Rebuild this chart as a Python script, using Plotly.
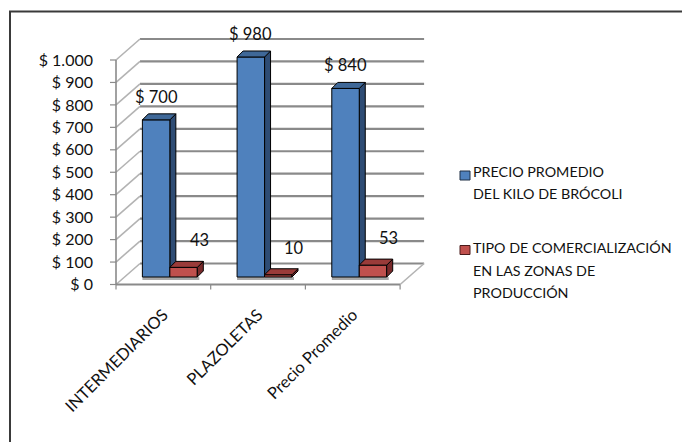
import plotly.graph_objects as go

# ---- data -------------------------------------------------------------
CATEGORIES = ["INTERMEDIARIOS", "PLAZOLETAS", "Precio Promedio"]
PRECIO_KILO = [700, 980, 840]
TIPO_COMERCIALIZACION = [43, 10, 53]
SERIES_NAMES = ["PRECIO PROMEDIO DEL KILO DE BRÓCOLI",
                "TIPO DE COMERCIALIZACIÓN EN LAS ZONAS DE PRODUCCIÓN"]
LEGEND_LINES = [["PRECIO PROMEDIO", "DEL KILO DE BRÓCOLI"],
                ["TIPO DE COMERCIALIZACIÓN", "EN LAS ZONAS DE", "PRODUCCIÓN"]]
Y_TICKS = list(range(0, 1001, 100))


def money(v):
    return "$ " + f"{v:,}".replace(",", ".")


Y_TICK_LABELS = [money(v) for v in Y_TICKS]

# ---- geometry (pixels) -------------------------------------------------
FIG_W, FIG_H = 682, 442
PLOT_L, PLOT_R, PLOT_T, PLOT_B = 104, 428, 30, 292
ORIGIN_X, ORIGIN_Y = 116, 284.5      # front corner of the floor
CAT_PX = 94.7                          # width of one category
VAL_PX = 0.2245                        # pixels per peso
WALL_DX, WALL_DY = 24, 21              # depth of the back wall
BAR_DX, BAR_DY = 6.5, 7.5              # bars sit slightly behind the front edge
FACE_DX, FACE_DY = 6, 6                # depth of each column
BAR_W = 0.29

FONT = "Lato"
TEXT = "#111111"
GRID = "#8a8a8a"
SIDE_GRID = "#b3b3b3"

BLUE = dict(front="#4F81BD", top="#3F6898", side="#2E4C74")
RED = dict(front="#C0504D", top="#9A3B39", side="#78292A")


def fx(px):
    return -0.5 + (px - ORIGIN_X) / CAT_PX


def fy(py):
    return (ORIGIN_Y - py) / VAL_PX


def paper_x(px):
    return (px - PLOT_L) / (PLOT_R - PLOT_L)


def paper_y(py):
    return (PLOT_B - py) / (PLOT_B - PLOT_T)


x_range = [fx(PLOT_L), fx(PLOT_R)]
y_range = [fy(PLOT_B), fy(PLOT_T)]
x2_range = [v - BAR_DX / CAT_PX for v in x_range]
y2_range = [v - BAR_DY / VAL_PX for v in y_range]

wdx, wdy = WALL_DX / CAT_PX, WALL_DY / VAL_PX
ddx, ddy = FACE_DX / CAT_PX, FACE_DY / VAL_PX

shapes = []


def add_line(x0, y0, x1, y1, color, width, xref="x", yref="y", layer="below"):
    shapes.append(dict(type="line", x0=x0, y0=y0, x1=x1, y1=y1, xref=xref, yref=yref,
                       line=dict(color=color, width=width), layer=layer))


def add_poly(pts, fill, xref="x2", yref="y2", layer="above"):
    path = "M " + " L ".join(f"{x},{y}" for x, y in pts) + " Z"
    shapes.append(dict(type="path", path=path, xref=xref, yref=yref, fillcolor=fill,
                       line=dict(color="#000000", width=1), layer=layer))


# back wall grid and side wall
for v in Y_TICKS:
    add_line(-0.5 + wdx, v + wdy, 2.5 + wdx, v + wdy, GRID, 2.2)
    add_line(-0.5, v, -0.5 + wdx, v + wdy, SIDE_GRID, 1.6)
    add_line(-0.5 - 6 / CAT_PX, v, -0.5, v, GRID, 1.2)
# floor
add_line(-0.5, 0, 2.5, 0, GRID, 2.2)
add_line(2.5, 0, 2.5 + wdx, wdy, SIDE_GRID, 1.6)
add_line(-0.5, 0, -0.5, 1000, GRID, 1.6)
for b in [-0.5, 0.5, 1.5, 2.5]:
    add_line(b, 0, b, -5 / VAL_PX, GRID, 1.2)

# column shadows, side and top faces
for series, offset, col in [(PRECIO_KILO, -BAR_W, BLUE), (TIPO_COMERCIALIZACION, 0, RED)]:
    for i, v in enumerate(series):
        xl = i + offset
        xr = xl + BAR_W
        shapes.append(dict(type="rect", xref="x2", yref="y2", x0=xl, x1=xr + 2 / CAT_PX,
                           y0=0, y1=-3 / VAL_PX, fillcolor="#a8a8a8",
                           line=dict(width=0), layer="below"))
        side_layer = "below" if col is BLUE else "above"
        add_poly([(xr, 0), (xr, v), (xr + ddx, v + ddy), (xr + ddx, ddy)], col["side"],
                 layer=side_layer)
        add_poly([(xl, v), (xr, v), (xr + ddx, v + ddy), (xl + ddx, v + ddy)], col["top"])

# chart frame
shapes.append(dict(type="rect", xref="paper", yref="paper",
                   x0=paper_x(10), x1=paper_x(720), y0=paper_y(480), y1=paper_y(11.5),
                   line=dict(color="#3a3a3a", width=2), fillcolor="rgba(0,0,0,0)",
                   layer="above"))

fig = go.Figure()
fig.add_trace(go.Bar(x=[0, 1, 2], y=PRECIO_KILO, name=SERIES_NAMES[0],
                     offset=-BAR_W, width=BAR_W, xaxis="x2", yaxis="y2",
                     marker=dict(color=BLUE["front"], line=dict(color="#000000", width=1))))
fig.add_trace(go.Bar(x=[0, 1, 2], y=TIPO_COMERCIALIZACION, name=SERIES_NAMES[1],
                     offset=0, width=BAR_W, xaxis="x2", yaxis="y2",
                     marker=dict(color=RED["front"], line=dict(color="#000000", width=1))))

annotations = []
# value labels
for i, v in enumerate(PRECIO_KILO):
    annotations.append(dict(x=i - BAR_W / 2, y=v, xref="x2", yref="y2", text=money(v),
                            showarrow=False, yanchor="bottom", yshift=11,
                            font=dict(family=FONT, size=16.5, color=TEXT)))
for i, v in enumerate(TIPO_COMERCIALIZACION):
    annotations.append(dict(x=i + BAR_W / 2, y=v, xref="x2", yref="y2", text=str(v),
                            showarrow=False, yanchor="bottom", yshift=15, xshift=16,
                            font=dict(family=FONT, size=16.5, color=TEXT)))

# legend
legend_sq = [(171, 180), (245.5, 254.5)]
legend_rows = [[171, 193], [248, 270.5, 292.5]]
for k, col in enumerate([BLUE, RED]):
    y0, y1 = legend_sq[k]
    shapes.append(dict(type="rect", xref="paper", yref="paper",
                       x0=paper_x(460), x1=paper_x(470), y0=paper_y(y1), y1=paper_y(y0),
                       fillcolor=col["front"], line=dict(color="#1f2f45" if k == 0 else "#4a1a1a", width=1)))
    for text, yc in zip(LEGEND_LINES[k], legend_rows[k]):
        annotations.append(dict(x=paper_x(470.5), y=paper_y(yc), xref="paper", yref="paper",
                                text=text, showarrow=False, xanchor="left", yanchor="middle",
                                font=dict(family=FONT, size=14.3, color=TEXT)))

fig.update_layout(
    width=FIG_W, height=FIG_H,
    margin=dict(l=PLOT_L, r=FIG_W - PLOT_R, t=PLOT_T, b=FIG_H - PLOT_B, pad=0),
    paper_bgcolor="white", plot_bgcolor="rgba(0,0,0,0)",
    showlegend=False, barmode="overlay",
    font=dict(family=FONT, size=14, color=TEXT),
    xaxis=dict(range=x_range, tickvals=[0, 1, 2], ticktext=CATEGORIES, tickangle=-45,
               showgrid=False, zeroline=False, showline=False, ticks="",
               ticklabelstandoff=9, tickfont=dict(family=FONT, size=16.5, color=TEXT)),
    yaxis=dict(range=y_range, tickvals=Y_TICKS, ticktext=Y_TICK_LABELS,
               showgrid=False, zeroline=False, showline=False, ticks="",
               ticklabelstandoff=10, tickfont=dict(family=FONT, size=16, color=TEXT)),
    xaxis2=dict(range=x2_range, overlaying="x", visible=False),
    yaxis2=dict(range=y2_range, overlaying="y", visible=False),
    shapes=shapes, annotations=annotations,
)

fig.write_html("out.html")
